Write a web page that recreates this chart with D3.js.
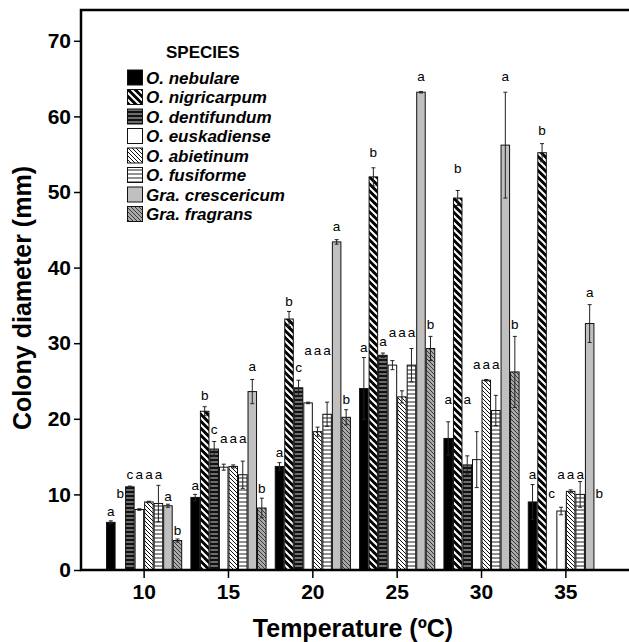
<!DOCTYPE html>
<html><head><meta charset="utf-8">
<script src="https://cdn.jsdelivr.net/npm/d3@7"></script>
<style>
body{margin:0;background:#fff}
svg{display:block}
text{font-family:"Liberation Sans",Arial,sans-serif}
</style>
</head><body>
<svg id="c" width="629" height="642"></svg>
<script>
const temps = ["10","15","20","25","30","35"];
const species = ["O. nebulare","O. nigricarpum","O. dentifundum","O. euskadiense","O. abietinum","O. fusiforme","Gra. crescericum","Gra. fragrans"];
// mean colony diameter (mm), one row per species, one column per temperature
const means = [
  [6.3, 9.6, 13.7, 24.0, 17.4, 9.0],
  [0, 21.0, 33.2, 52.0, 49.2, 55.2],
  [11.0, 16.0, 24.1, 28.4, 13.9, 0],
  [8.0, 13.6, 22.1, 27.1, 14.6, 7.8],
  [9.0, 13.7, 18.3, 22.9, 25.1, 10.4],
  [8.8, 12.6, 20.6, 27.1, 21.1, 10.0],
  [8.5, 23.6, 43.4, 63.2, 56.2, 32.6],
  [3.9, 8.2, 20.2, 29.3, 26.2, 0]
];
const errors = [
  [0.2, 0.4, 0.5, 4.1, 2.2, 2.3],
  [0, 0.6, 1.0, 1.2, 1.0, 1.2],
  [0.1, 1.0, 1.0, 0.3, 1.2, 0],
  [0.1, 0.4, 0.1, 0.6, 3.7, 0.5],
  [0.1, 0.2, 0.6, 0.8, 0.1, 0.2],
  [2.4, 1.8, 1.6, 2.2, 2.0, 1.7],
  [0.2, 1.6, 0.3, 0.1, 7.0, 2.5],
  [0.2, 1.3, 1.0, 1.6, 4.7, 0]
];
// significance letters per temperature (one per species) and the value level they sit at
const letters = ["abcaaaab","abcaaaab","abcaaaab","abaaaaab","abaaaaab","abcaaaab"];
const letterAt = [
  [7.8, 10.1, 12.6, 12.6, 12.6, 12.6, 9.8, 5.2],
  [11.2, 23.1, 18.6, 17.4, 17.4, 17.4, 26.9, 10.8],
  [15.6, 35.6, 26.8, 29.0, 29.0, 29.0, 45.5, 22.6],
  [29.5, 55.2, 30.3, 31.4, 31.4, 31.4, 65.3, 32.5],
  [22.6, 53.1, 22.6, 27.2, 27.2, 27.2, 65.3, 32.5],
  [12.7, 58.2, 10.1, 12.7, 12.7, 12.7, 36.8, 10.1]
];
const yTicks = [0,10,20,30,40,50,60,70];

const svg = d3.select("#c");
const L = 81, R = 629, B = 570, T = 10;
const x0 = d3.scaleBand().domain(temps).range([L, R]).paddingInner(0.097).paddingOuter(0.297);
const x1 = d3.scaleBand().domain(species).range([0, x0.bandwidth()]);
const y = d3.scaleLinear().domain([0, 70]).range([B, B - 70 * 7.56]);

// patterns
const defs = svg.append("defs");
function pat(id, size, bg, draw) {
  const p = defs.append("pattern").attr("id", id).attr("patternUnits", "userSpaceOnUse")
    .attr("width", size).attr("height", size);
  p.append("rect").attr("width", size).attr("height", size).attr("fill", bg);
  draw(p, size);
}
function diag(p, s, color, w) {
  p.append("path").attr("d", `M0,0L${s},${s}M${-s/2},${s/2}L${s/2},${s*1.5}M${s/2},${-s/2}L${s*1.5},${s/2}`)
    .attr("stroke", color).attr("stroke-width", w);
}
function horiz(p, s, color, w) {
  p.append("line").attr("x1", 0).attr("x2", s).attr("y1", s/2).attr("y2", s/2)
    .attr("stroke", color).attr("stroke-width", w);
}
pat("p1", 7, "#000", (p, s) => diag(p, s, "#fff", 2.0));
pat("p2", 4, "#111", (p, s) => horiz(p, s, "#aaa", 1.2));
pat("p4", 4, "#fff", (p, s) => diag(p, s, "#111", 1.0));
pat("p5", 4, "#fff", (p, s) => horiz(p, s, "#222", 1.0));
pat("p7", 4, "#a9a9a9", (p, s) => diag(p, s, "#3a3a3a", 1.0));
const fills = ["#000", "url(#p1)", "url(#p2)", "#fff", "url(#p4)", "url(#p5)", "#c0c0c0", "url(#p7)"];

// bars
const cells = [];
temps.forEach((t, ti) => species.forEach((s, si) => {
  cells.push({t, ti, s, si, v: means[si][ti], e: errors[si][ti], l: letters[ti][si], la: letterAt[ti][si]});
}));
const bx = d => x0(d.t) + x1(d.s);
const bw = x1.bandwidth();

svg.append("g").selectAll("rect").data(cells.filter(d => d.v > 0)).join("rect")
  .attr("x", d => bx(d) + 0.5).attr("y", d => y(d.v))
  .attr("width", bw - 1).attr("height", d => B - y(d.v))
  .attr("fill", d => fills[d.si]).attr("stroke", "#111").attr("stroke-width", 1);

// error bars
const eg = svg.append("g").attr("stroke", "#222").attr("stroke-width", 1).attr("fill", "none");
cells.filter(d => d.v > 0 && d.e > 0).forEach(d => {
  const cx = bx(d) + bw / 2, y1 = y(d.v + d.e), y2 = y(d.v - d.e);
  eg.append("path").attr("d", `M${cx},${y1}V${y2}M${cx-2},${y1}H${cx+2}M${cx-2},${y2}H${cx+2}`);
});

// letters
svg.append("g").selectAll("text").data(cells).join("text")
  .attr("x", d => bx(d) + bw / 2).attr("y", d => y(d.la))
  .attr("dy", "0.35em").attr("text-anchor", "middle")
  .attr("font-size", 13.5).attr("fill", "#000").text(d => d.l);

// axes
const ya = svg.append("g").attr("transform", `translate(${L},0)`)
  .call(d3.axisLeft(y).tickValues(yTicks).tickSize(7).tickSizeOuter(0).tickPadding(3));
ya.select(".domain").remove();
ya.selectAll(".tick line").attr("stroke", "#000").attr("stroke-width", 1.5);
ya.selectAll(".tick text").attr("font-size", 21).attr("font-weight", "bold").attr("fill", "#000")
  .style("font-family", '"Liberation Sans",Arial,sans-serif');

const xa = svg.append("g").attr("transform", `translate(0,${B})`)
  .call(d3.axisBottom(x0).tickSize(8).tickSizeOuter(0).tickPadding(6));
xa.select(".domain").remove();
xa.selectAll(".tick line").attr("stroke", "#000").attr("stroke-width", 1.5);
xa.selectAll(".tick text").attr("font-size", 21).attr("font-weight", "bold").attr("fill", "#000")
  .style("font-family", '"Liberation Sans",Arial,sans-serif');

// frame
svg.append("path").attr("d", `M${R},${T}H${L}V${B}H${R}`).attr("fill", "none")
  .attr("stroke", "#000").attr("stroke-width", 2.5);

// titles
svg.append("text").attr("x", 353).attr("y", 637).attr("text-anchor", "middle")
  .attr("font-size", 25).attr("font-weight", "bold").text("Temperature (ºC)");
svg.append("text").attr("transform", "translate(31,298) rotate(-90)").attr("text-anchor", "middle")
  .attr("font-size", 25).attr("font-weight", "bold").text("Colony diameter (mm)");

// legend
const lg = svg.append("g");
lg.append("text").attr("x", 166).attr("y", 58).attr("font-size", 17).attr("font-weight", "bold").text("SPECIES");
species.forEach((s, i) => {
  const cy = 77.5 + i * 19.5;
  lg.append("rect").attr("x", 127.5).attr("y", cy - 7.5).attr("width", 15).attr("height", 15)
    .attr("fill", fills[i]).attr("stroke", "#111").attr("stroke-width", 1);
  lg.append("text").attr("x", 146).attr("y", cy).attr("dy", "0.36em").attr("font-size", 17)
    .attr("font-weight", "bold").attr("font-style", "italic").text(s);
});
</script>
</body></html>
